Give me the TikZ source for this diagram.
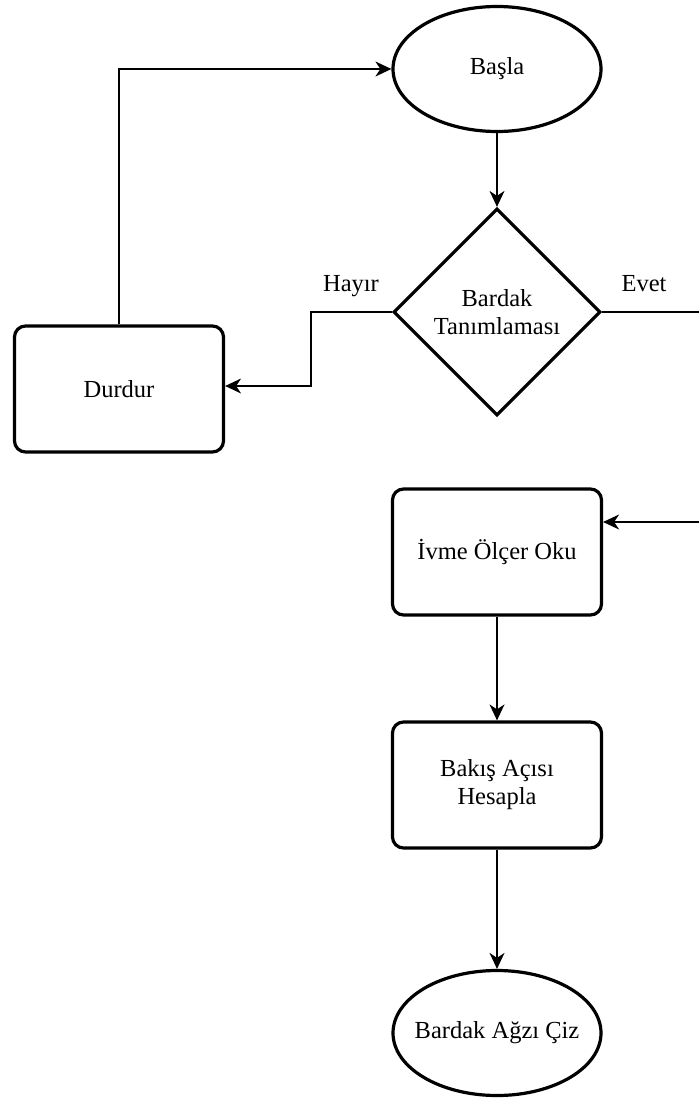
\documentclass[tikz,border=0pt]{standalone}
\usepackage{fontspec}
\setmainfont{Liberation Serif}
\usetikzlibrary{arrows.meta,positioning,shapes.geometric}

\begin{document}
\begin{tikzpicture}[x=1pt,y=-1pt,
  font=\fontsize{24.5}{28}\selectfont,
  kutu/.style={draw,line width=3.2pt,rounded corners=11pt,minimum width=209pt,
    minimum height=126pt,inner sep=0pt,align=center},
  uc/.style={draw,ellipse,line width=3.2pt,minimum width=208pt,
    minimum height=125pt,inner xsep=-22pt,inner ysep=0pt,align=center},
  karar/.style={draw,diamond,aspect=1,line width=3.2pt,minimum size=207pt,
    inner sep=0pt,align=center},
  ok/.style={-{Stealth[length=16pt,width=15pt,inset=5pt]},line width=1.5pt}]
  \useasboundingbox (0,0) rectangle (698,1099);
  % akis
  \node[uc] (basla) at (497,69) {Başla};
  \node[karar] (tanim) at (497,312) {Bardak\\Tanımlaması};
  \node[kutu] (durdur) at (119,389) {Durdur};
  \node[kutu] (ivme) at (497,552) {İvme Ölçer Oku};
  \node[kutu] (bakis) at (497,785) {Bakış Açısı\\Hesapla};
  \node[uc] (agiz) at (497,1033) {Bardak Ağzı Çiz};
  \coordinate (sag) at (712,312);
  \draw[ok] (basla) -- (tanim);
  \draw[ok] (tanim.west) -- ++(-81,0) |- ([yshift=3pt]durdur.east);
  \draw[ok] (durdur.north) |- (basla.west);
  \draw[ok] (tanim.east) -- (sag) |- ([yshift=30pt]ivme.east);
  \draw[ok] (ivme) -- (bakis);
  \draw[ok] (bakis) -- (agiz);
  % etiketler
  \node[anchor=base] (hayir) at (351,291) {Hayır};
  \node[anchor=base] (evet) at (644,291) {Evet};
\end{tikzpicture}
\end{document}
